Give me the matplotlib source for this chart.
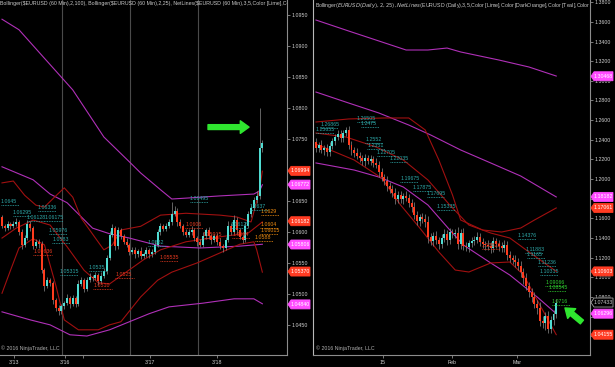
import numpy as np
import matplotlib
matplotlib.use("Agg")
import matplotlib.pyplot as plt
from matplotlib.patches import Polygon

plt.rcParams['font.family'] = ['Liberation Sans', 'DejaVu Sans']

# ---------------- 60 Min panel (left) ----------------
h_open0 = 1.0625
h_close = [
    1.0611, 1.0607, 1.0614, 1.0611, 1.0614, 1.0617, 1.0601, 1.0580, 1.0591, 1.0614,
    1.0607, 1.0578, 1.0585, 1.0581, 1.0540, 1.0514, 1.0523, 1.0519, 1.0491, 1.0478,
    1.0473, 1.0481, 1.0486, 1.0494, 1.0485, 1.0494, 1.0485, 1.0517, 1.0523, 1.0509,
    1.0523, 1.0528, 1.0527, 1.0531, 1.0522, 1.0530, 1.0538, 1.0559, 1.0596, 1.0607,
    1.0578, 1.0604, 1.0594, 1.0585, 1.0580, 1.0569, 1.0572, 1.0565, 1.0570, 1.0562,
    1.0565, 1.0572, 1.0565, 1.0569, 1.0580, 1.0601, 1.0611, 1.0606, 1.0611, 1.0617,
    1.0630, 1.0635, 1.0617, 1.0611, 1.0601, 1.0596, 1.0601, 1.0604, 1.0591, 1.0585,
    1.0580, 1.0594, 1.0604, 1.0594, 1.0588, 1.0594, 1.0585, 1.0578, 1.0575, 1.0588,
    1.0611, 1.0601, 1.0620, 1.0604, 1.0593, 1.0588, 1.0611, 1.0630, 1.0640, 1.0652,
    1.0659, 1.0736, 1.0744]
# wick lengths beyond the body, in pips
h_wick_up = [
    4, 3, 5, 3, 4, 6, 3, 4, 5, 6,
    4, 3, 5, 4, 5, 3, 6, 4, 3, 4,
    5, 4, 3, 6, 4, 5, 3, 6, 5, 4,
    5, 6, 4, 5, 3, 6, 5, 4, 7, 6,
    4, 5, 3, 4, 6, 3, 5, 4, 3, 6,
    4, 5, 3, 4, 6, 5, 4, 3, 5, 4,
    19, 8, 5, 4, 3, 5, 4, 6, 3, 4,
    5, 6, 4, 5, 3, 4, 5, 6, 4, 5,
    7, 4, 9, 5, 4, 3, 6, 5, 4, 6,
    8, 64, 5]
h_wick_dn = [
    3, 4, 3, 5, 3, 4, 5, 6, 4, 3,
    5, 4, 3, 6, 5, 8, 4, 5, 6, 5,
    6, 4, 5, 3, 6, 4, 5, 3, 4, 5,
    4, 3, 5, 4, 6, 3, 4, 5, 3, 4,
    6, 4, 5, 3, 4, 5, 3, 6, 4, 5,
    3, 4, 6, 5, 4, 3, 5, 4, 3, 4,
    5, 4, 6, 3, 5, 4, 3, 5, 4, 6,
    4, 3, 5, 4, 6, 3, 5, 4, 6, 3,
    4, 5, 3, 6, 4, 5, 3, 4, 5, 3,
    4, 5, 6]

# Bollinger(2,100) in magenta, Bollinger(2,25) in dark red  (bar, price)
h_bb100_up_x = [0, 6, 15, 25, 36, 45, 49, 56, 60, 67, 77, 89, 91, 92]
h_bb100_up = [1.0944, 1.0927, 1.0881, 1.0830, 1.0754, 1.0714, 1.0696, 1.0669,
              1.0654, 1.0656, 1.0659, 1.0662, 1.0667, 1.0677]
h_bb100_mid_x = [0, 11, 17, 23, 32, 38, 45, 56, 70, 84, 92]
h_bb100_mid = [1.0706, 1.0685, 1.0662, 1.0648, 1.0607, 1.0598, 1.0591, 1.0578,
               1.0575, 1.0578, 1.0581]
h_bb100_lo_x = [0, 10, 17, 24, 30, 38, 45, 52, 59, 71, 82, 89, 92]
h_bb100_lo = [1.0472, 1.0459, 1.0451, 1.0435, 1.0433, 1.0443, 1.0456, 1.0469,
              1.0480, 1.0486, 1.0493, 1.0493, 1.0485]
h_bb25_up_x = [0, 4, 8, 12, 15, 19, 22, 25, 28, 33, 36, 39, 42, 49, 56, 65, 77,
               83, 88, 89, 91, 92]
h_bb25_up = [1.0680, 1.0683, 1.0660, 1.0644, 1.0641, 1.0659, 1.0672, 1.0657,
             1.0623, 1.0591, 1.0572, 1.0580, 1.0604, 1.0610, 1.0628, 1.0631,
             1.0628, 1.0625, 1.0617, 1.0633, 1.0669, 1.0699]
h_bb25_mid_x = [0, 5, 11, 17, 23, 29, 34, 38, 42, 50, 56, 65, 77, 87, 92]
h_bb25_mid = [1.0591, 1.0607, 1.0620, 1.0612, 1.0577, 1.0539, 1.0519, 1.0517,
              1.0530, 1.0556, 1.0572, 1.0585, 1.0593, 1.0599, 1.0617]
h_bb25_lo_x = [0, 3, 6, 11, 15, 19, 22, 27, 34, 38, 42, 49, 55, 60, 69, 77, 84,
               89, 90, 92]
h_bb25_lo = [1.0502, 1.0539, 1.0575, 1.0590, 1.0580, 1.0515, 1.0459, 1.0443,
             1.0443, 1.0451, 1.0456, 1.0496, 1.0523, 1.0536, 1.0551, 1.0567,
             1.0581, 1.0585, 1.0572, 1.0536]

# NetLines labels
h_lbl_text = ["1.06336", "1.06295", "1.06128", "1.06175", "1.05976", "1.0583",
              "1.05315", "1.0535", "1.06495", "1.0582", "1.0637", "1.06125",
              "1.0645", "1.05636", "1.0510", "1.0525", "1.05535", "1.0606",
              "1.05915", "1.0594", "1.0629", "1.0604", "1.06015", "1.0588"]
h_lbl_bar = [12.7, 3.9, 8.8, 15.2, 16.6, 17.7, 20.5, 30.7, 66.4, 51.6, 87.6, 80.6,
             -0.5, 11.0, 32.2, 40.0, 55.8, 64.7, 71.0, 81.3, 91.5, 91.2, 91.2, 89.4]
h_lbl_price = [1.0635, 1.0627, 1.0619, 1.0619, 1.0598, 1.0583, 1.0531, 1.0538,
               1.0649, 1.0578, 1.0636, 1.0607, 1.0645, 1.0564, 1.0509, 1.0527,
               1.0554, 1.0607, 1.0591, 1.0591, 1.0628, 1.0607, 1.0597, 1.0586]
h_lbl_kind = ["teal"] * 13 + ["red"] * 7 + ["orange"] * 4

h_tag_vals = [1.06994, 1.06772, 1.06182, 1.05806, 1.05370, 1.04840]
h_tag_kind = ["red", "magenta", "red", "magenta", "red", "magenta"]
h_yticks = [1.0450, 1.0500, 1.0550, 1.0600, 1.0650, 1.0700, 1.0750, 1.0800,
            1.0850, 1.0900, 1.0950]
h_yhidden = [1.0700]          # covered by a price tag
h_xticks = [4.2, 22.3, 28.6, 52.3, 76.0]
h_xlabels = ["3/13", "3/16", "", "3/17", "3/18"]
h_sessions = [21.2, 45.2, 69.3]

# ---------------- Daily panel (right) ----------------
d_open0 = 1.2377
d_close = [
    1.2316, 1.2347, 1.2296, 1.2316, 1.2276, 1.2337, 1.2388, 1.2428, 1.2459, 1.2418,
    1.2469, 1.2500, 1.2347, 1.2296, 1.2265, 1.2235, 1.2215, 1.2184, 1.2215, 1.2184,
    1.2204, 1.2164, 1.2143, 1.2072, 1.2021, 1.1980, 1.1930, 1.1899, 1.1858, 1.1797,
    1.1838, 1.1797, 1.1828, 1.1807, 1.1756, 1.1716, 1.1634, 1.1573, 1.1614, 1.1594,
    1.1563, 1.1410, 1.1370, 1.1421, 1.1380, 1.1339, 1.1400, 1.1441, 1.1380, 1.1461,
    1.1441, 1.1451, 1.1339, 1.1451, 1.1319, 1.1309, 1.1349, 1.1370, 1.1380, 1.1410,
    1.1359, 1.1339, 1.1329, 1.1319, 1.1298, 1.1370, 1.1339, 1.1319, 1.1298, 1.1329,
    1.1227, 1.1197, 1.1176, 1.1156, 1.1115, 1.1054, 1.0993, 1.0912, 1.0850, 1.0800,
    1.0728, 1.0688, 1.0555, 1.0535, 1.0606, 1.0474, 1.0565, 1.0626, 1.0743]
d_wick_up = [
    40, 35, 50, 30, 45, 40, 35, 30, 45, 40,
    35, 30, 40, 45, 35, 50, 40, 30, 45, 35,
    40, 35, 50, 45, 40, 35, 55, 40, 45, 50,
    40, 45, 35, 50, 40, 45, 55, 40, 35, 45,
    50, 60, 45, 40, 55, 35, 45, 50, 40, 45,
    35, 40, 60, 45, 50, 40, 35, 45, 40, 50,
    45, 40, 35, 50, 45, 40, 35, 45, 40, 50,
    40, 45, 35, 50, 40, 55, 45, 50, 40, 45,
    50, 45, 60, 55, 40, 50, 45, 40, 36]
d_wick_dn = [
    45, 40, 35, 50, 40, 45, 30, 40, 35, 45,
    40, 35, 45, 50, 40, 35, 45, 40, 50, 35,
    45, 40, 35, 50, 45, 40, 50, 45, 40, 55,
    40, 45, 50, 35, 45, 50, 40, 45, 50, 40,
    55, 60, 45, 50, 40, 55, 45, 40, 50, 45,
    40, 45, 50, 55, 40, 45, 50, 40, 45, 35,
    45, 40, 50, 45, 55, 40, 45, 50, 40, 45,
    50, 45, 40, 55, 45, 50, 60, 45, 55, 50,
    45, 60, 50, 55, 70, 40, 45, 50, 40]

d_bbm_up_x = [0, 12, 23, 33, 41, 48, 53, 67, 78, 88]
d_bbm_up = [1.3619, 1.3507, 1.3406, 1.3314, 1.3314, 1.3334, 1.3294, 1.3212,
            1.3141, 1.3049]
d_bbm_mid_x = [0, 12, 23, 34, 42, 53, 64, 75, 88]
d_bbm_mid = [1.2886, 1.2774, 1.2673, 1.2550, 1.2449, 1.2296, 1.2164, 1.2031,
             1.1818]
d_bbm_lo_x = [0, 14, 23, 32, 41, 49, 54, 64, 71, 81, 88]
d_bbm_lo = [1.2164, 1.2092, 1.2021, 1.1919, 1.1736, 1.1482, 1.1329, 1.1146,
            1.1023, 1.0800, 1.0630]
d_bb25_up_x = [0, 12, 25, 34, 40, 45, 50, 53, 61, 68, 75, 80, 88]
d_bb25_up = [1.2581, 1.2612, 1.2622, 1.2622, 1.2500, 1.2194, 1.1838, 1.1583,
             1.1482, 1.1461, 1.1502, 1.1583, 1.1706]
d_bb25_mid_x = [0, 11, 22, 32, 41, 49, 56, 64, 71, 78, 88]
d_bb25_mid = [1.2469, 1.2428, 1.2327, 1.2194, 1.1991, 1.1736, 1.1532, 1.1451,
              1.1400, 1.1258, 1.1060]
d_bb25_lo_x = [0, 14, 24, 31, 38, 45, 51, 56, 64, 71, 76, 82, 88]
d_bb25_lo = [1.2357, 1.2194, 1.2011, 1.1736, 1.1502, 1.1258, 1.1074, 1.1054,
             1.1146, 1.1156, 1.1024, 1.0718, 1.0416]

d_lbl_text = ["1.26505", "1.2475", "1.26865", "1.25655", "1.2552", "1.2351",
              "1.22705", "1.22035", "1.19675", "1.17875", "1.17695", "1.15335",
              "1.14376", "1.11883", "1.1165", "1.11236", "1.10315",
              "1.13823", "1.09066", "1.08545", "1.0716"]
d_lbl_bar = [15.0, 16.5, 1.5, 0.0, 18.0, 18.7, 22.3, 27.0, 30.8, 35.5, 40.5, 44.3,
             74.0, 76.6, 77.3, 81.3, 82.0, 60.8, 83.9, 85.0, 86.4]
d_lbl_price = [1.2581, 1.2530, 1.2520, 1.2469, 1.2367, 1.2306, 1.2235, 1.2174,
               1.1970, 1.1878, 1.1820, 1.1685, 1.1390, 1.1247, 1.1197, 1.1115,
               1.1024, 1.1288, 1.0912, 1.0861, 1.0718]
d_lbl_kind = ["teal"] * 17 + ["red"] + ["green"] * 3

d_tag_vals = [1.30468, 1.18182, 1.17061, 1.10603, 1.07433, 1.06296, 1.04155]
d_tag_kind = ["magenta", "magenta", "red", "red", "last", "magenta", "red"]
d_yticks = [1.04, 1.06, 1.08, 1.10, 1.12, 1.14, 1.16, 1.18, 1.20, 1.22, 1.24,
            1.26, 1.28, 1.30, 1.32, 1.34, 1.36, 1.38]
d_yhidden = [1.04, 1.06, 1.18]   # covered by price tags
d_xticks = [24.5, 49.8, 73.6]
d_xlabels = ["15", "Feb", "Mar"]

# indicator captions, as far as the screenshot shows them
h_title = ("Bollinger($EURUSD (60 Min),2,100), Bollinger($EURUSD (60 Min),2,25), "
           "NetLines($EURUSD (60 Min),3,5,Color [Lime],Col")
d_title = ("Bollinger($EURUSD (Daily),2,25), NetLines($EURUSD (Daily),3,5,"
           "Color [Lime],Color [DarkOrange],Color [Teal],Color")

# ---------------- styling ----------------
W, H = 615, 367
UP, DN, WICK = "#50dcd2", "#ff3c1e", "#8a8a8a"
MAG, DRED = "#b030b8", "#a01010"
LBL = {"teal": "#2ea8a8", "red": "#e83a20", "orange": "#f08c10", "green": "#30d030"}
TAG = {"red": ("#ff3b22", "#ff3b22", "white"), "magenta": ("#ff4cff", "#ff4cff", "white"),
       "last": ("black", "#a0a0a0", "#c8c8c8")}
FS = 3.8
ARROW = "#2fe62f"

fig = plt.figure(figsize=(W / 100, H / 100), dpi=100, facecolor="black")


def panel(x0, x1, bar0, step, ytop, per_px):
    ax = fig.add_axes([x0 / W, 1 - 355 / H, (x1 - x0) / W, 355 / H])
    ax.set_facecolor("black")
    ax.set_xlim((x0 - bar0) / step, (x1 - bar0) / step)
    ax.set_ylim(ytop - per_px * 355, ytop)
    for s in ax.spines.values():
        s.set_color("#8c8c8c")
        s.set_linewidth(0.8)
    ax.spines["top"].set_visible(False)
    ax.yaxis.tick_right()
    ax.tick_params(colors="#8c8c8c", labelcolor="#d0d0d0", labelsize=FS,
                   length=2.2, width=0.6, pad=1.2)
    return ax


def candles(ax, open0, closes, up, dn, min_h):
    c = np.array(closes)
    o = np.r_[open0, c[:-1]]
    x = np.arange(len(c))
    hi = np.maximum(o, c) + np.array(up) * 1e-4
    lo = np.minimum(o, c) - np.array(dn) * 1e-4
    ax.vlines(x, lo, hi, color=WICK, lw=0.5, zorder=3)
    body = np.maximum(np.abs(c - o), min_h)
    cols = np.where(c >= o, UP, DN)
    ax.bar(x, body, bottom=np.minimum(o, c), width=0.72, color=cols, lw=0, zorder=4)


def netlabels(ax, texts, bars, prices, kinds, px):
    for t, b, p, k in zip(texts, bars, prices, kinds):
        ax.plot([b, b + 6.5], [p, p], color=LBL[k], lw=0.6, ls=(0, (1, 1)),
                zorder=5, clip_on=True)
        ax.text(b, p + px, t, color=LBL[k], fontsize=FS, ha="left", va="bottom",
                zorder=6, clip_on=True)


def yticks(ax, ticks, hidden, fmt):
    ax.set_yticks(ticks)
    ax.set_yticklabels(["" if v in hidden else fmt % v for v in ticks])


def tags(ax, vals, kinds, width_px, px):
    tr = ax.get_yaxis_transform()
    a, b, e = 1 / width_px, 4 / width_px, 23 / width_px
    h = 4.5 * px
    for v, k in zip(vals, kinds):
        fc, ec, tc = TAG[k]
        poly = Polygon([(1 + a, v), (1 + b, v + h), (1 + e, v + h), (1 + e, v - h),
                        (1 + b, v - h)], closed=True, transform=tr, fc=fc, ec=ec,
                       lw=0.6, clip_on=False, zorder=20)
        ax.add_patch(poly)
        ax.text(1 + (b + e) / 2, v, "%.5f" % v, transform=tr, color=tc, fontsize=FS,
                ha="center", va="center", clip_on=False, zorder=21)


# ---- left: 60 min ----
hpx = 0.0001613
ax1 = panel(0, 287, 2, 2.83, 1.0975, hpx)
ax1.spines["left"].set_visible(False)
for s in h_sessions:
    ax1.axvline(s, color="#4a4a4a", lw=0.8, zorder=1)
ax1.plot(h_bb100_up_x, h_bb100_up, color=MAG, lw=0.8, zorder=2)
ax1.plot(h_bb100_mid_x, h_bb100_mid, color=MAG, lw=0.8, zorder=2)
ax1.plot(h_bb100_lo_x, h_bb100_lo, color=MAG, lw=0.8, zorder=2)
ax1.plot(h_bb25_up_x, h_bb25_up, color=DRED, lw=0.8, zorder=2)
ax1.plot(h_bb25_mid_x, h_bb25_mid, color=DRED, lw=0.8, zorder=2)
ax1.plot(h_bb25_lo_x, h_bb25_lo, color=DRED, lw=0.8, zorder=2)
candles(ax1, h_open0, h_close, h_wick_up, h_wick_dn, 0.00008)
netlabels(ax1, h_lbl_text, h_lbl_bar, h_lbl_price, h_lbl_kind, hpx)
yticks(ax1, h_yticks, h_yhidden, "%.4f")
ax1.set_xticks(h_xticks)
ax1.set_xticklabels(h_xlabels)
tags(ax1, h_tag_vals, h_tag_kind, 287, hpx)
ax1.annotate("", xy=(87.3, 1.0770), xytext=(72.8, 1.0770), annotation_clip=False,
             arrowprops=dict(arrowstyle="simple,head_length=0.9,head_width=1.3,tail_width=0.5",
                             mutation_scale=7, fc=ARROW, ec=ARROW, shrinkA=0, shrinkB=0),
             zorder=8)
ax1.text(0.0, 0.997, h_title, transform=ax1.transAxes, color="#c8c8c8", fontsize=FS,
         ha="left", va="top", clip_on=True, zorder=9)
ax1.text(0.004, 0.012, "\u00a9 2016 NinjaTrader, LLC", transform=ax1.transAxes,
         color="#b0b0b0", fontsize=FS, ha="left", va="bottom", zorder=9)

# ---- right: daily ----
dpx = 0.001018
ax2 = panel(313, 590, 316, 2.73, 1.3823, dpx)
ax2.spines["left"].set_color("#b8b8b8")
ax2.plot(d_bbm_up_x, d_bbm_up, color=MAG, lw=0.8, zorder=2)
ax2.plot(d_bbm_mid_x, d_bbm_mid, color=MAG, lw=0.8, zorder=2)
ax2.plot(d_bbm_lo_x, d_bbm_lo, color=MAG, lw=0.8, zorder=2)
ax2.plot(d_bb25_up_x, d_bb25_up, color=DRED, lw=0.8, zorder=2)
ax2.plot(d_bb25_mid_x, d_bb25_mid, color=DRED, lw=0.8, zorder=2)
ax2.plot(d_bb25_lo_x, d_bb25_lo, color=DRED, lw=0.8, zorder=2)
candles(ax2, d_open0, d_close, d_wick_up, d_wick_dn, 0.0006)
netlabels(ax2, d_lbl_text, d_lbl_bar, d_lbl_price, d_lbl_kind, dpx)
yticks(ax2, d_yticks, d_yhidden, "%.4f")
ax2.set_xticks(d_xticks)
ax2.set_xticklabels(d_xlabels)
tags(ax2, d_tag_vals, d_tag_kind, 277, dpx)
ax2.annotate("", xy=(91.2, 1.0688), xytext=(97.4, 1.0545), annotation_clip=False,
             arrowprops=dict(arrowstyle="simple,head_length=0.9,head_width=1.3,tail_width=0.5",
                             mutation_scale=7, fc=ARROW, ec=ARROW, shrinkA=0, shrinkB=0),
             zorder=8)
ax2.text(0.007, 0.997, d_title, transform=ax2.transAxes, color="#c8c8c8", fontsize=FS,
         ha="left", va="top", clip_on=True, zorder=9)
ax2.text(0.01, 0.012, "\u00a9 2016 NinjaTrader, LLC", transform=ax2.transAxes,
         color="#b0b0b0", fontsize=FS, ha="left", va="bottom", zorder=9)

fig.savefig("out.png", dpi=100, facecolor="black")
